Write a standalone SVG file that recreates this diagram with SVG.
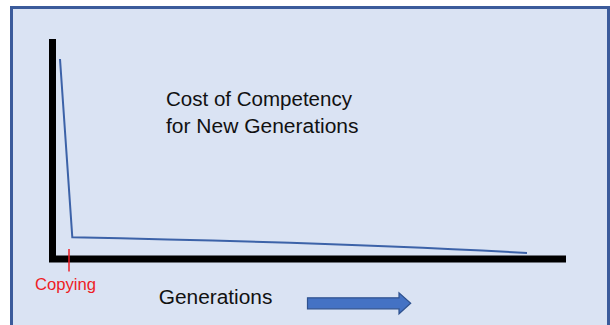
<svg xmlns="http://www.w3.org/2000/svg" width="610" height="325" viewBox="0 0 610 325">
  <style>
    .t { font-family: "Liberation Sans", Arial, sans-serif; font-size: 20px; fill: #111111; }
    .red { font-family: "Liberation Sans", Arial, sans-serif; font-size: 16px; fill: #ee1c25; }
    .axis { stroke: #000000; stroke-width: 7; fill: none; }
  </style>
  <rect x="0" y="0" width="610" height="325" fill="#ffffff"/>
  <rect id="frame" x="11.5" y="7.5" width="597" height="330" fill="#dae3f3" stroke="#3b5b9b" stroke-width="3"/>
  <g id="axes">
    <path class="axis" d="M52.5,39 V259 H566"/>
  </g>
  <g id="connectors">
    <path d="M60,59 L72.3,237.3 Q350,243 527,253" fill="none" stroke="#3c62a8" stroke-width="2"/>
    <line x1="69" y1="249" x2="69" y2="271.5" stroke="#ee1c25" stroke-width="1.5"/>
    <path id="arrow" d="M307.5,297.8 H399 V292.8 L410.7,303.3 L399,313.8 V308.8 H307.5 Z" fill="#4472c4" stroke="#2f528f" stroke-width="1.2"/>
  </g>
  <g id="title">
    <text class="t" x="166" y="106" textLength="186" lengthAdjust="spacingAndGlyphs">Cost of Competency</text>
    <text class="t" x="166" y="133.3" textLength="192.5" lengthAdjust="spacingAndGlyphs">for New Generations</text>
  </g>
  <g id="copying">
    <text class="red" x="35" y="290" textLength="61" lengthAdjust="spacingAndGlyphs">Copying</text>
  </g>
  <g id="generations">
    <text class="t" x="158.7" y="304" textLength="113.7" lengthAdjust="spacingAndGlyphs">Generations</text>
  </g>
</svg>
